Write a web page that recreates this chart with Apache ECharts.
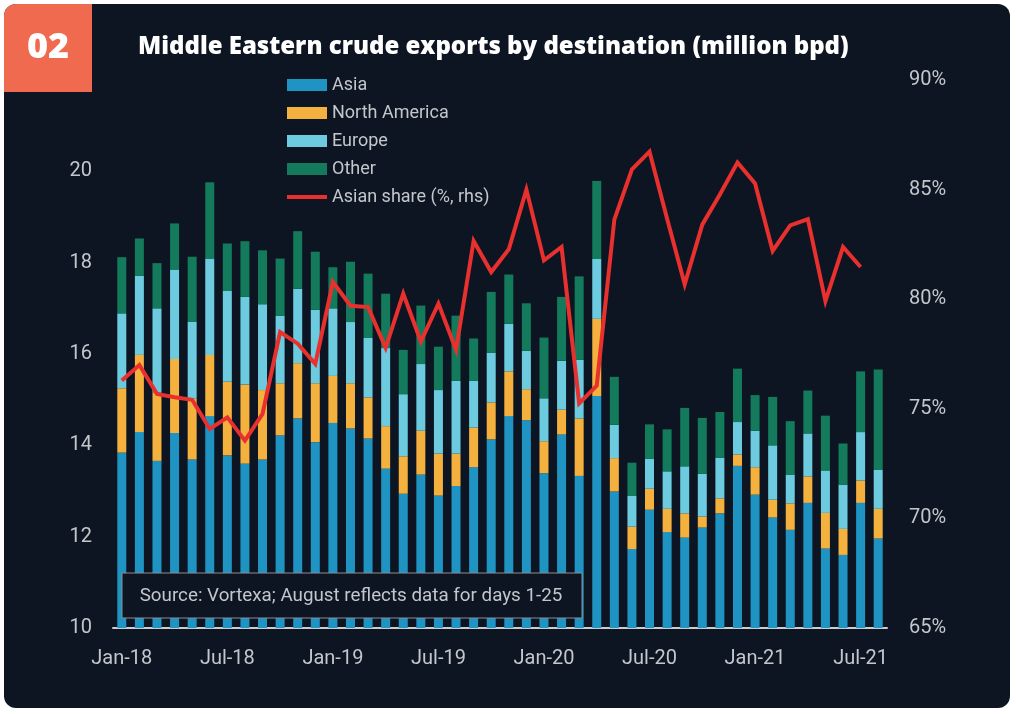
<!DOCTYPE html>
<html>
<head>
<meta charset="utf-8">
<script src="https://cdn.jsdelivr.net/npm/echarts@6/dist/echarts.min.js"></script>
<style>
  html, body { margin: 0; padding: 0; background: #ffffff; }
  #wrap { position: relative; width: 1016px; height: 714px; }
  #panel { position: absolute; left: 4px; top: 4px; width: 1006px; height: 704px; border-radius: 12px; background: #0d1522; }
  #chart { position: absolute; left: 0; top: 0; width: 1016px; height: 714px; }
</style>
</head>
<body>
<div id="wrap"><div id="panel"></div><div id="chart"></div></div>
<script>
const categories = ['Jan-18','Feb-18','Mar-18','Apr-18','May-18','Jun-18','Jul-18','Aug-18','Sep-18','Oct-18','Nov-18','Dec-18',
  'Jan-19','Feb-19','Mar-19','Apr-19','May-19','Jun-19','Jul-19','Aug-19','Sep-19','Oct-19','Nov-19','Dec-19',
  'Jan-20','Feb-20','Mar-20','Apr-20','May-20','Jun-20','Jul-20','Aug-20','Sep-20','Oct-20','Nov-20','Dec-20',
  'Jan-21','Feb-21','Mar-21','Apr-21','May-21','Jun-21','Jul-21','Aug-21'];
const asia = [13.84,14.29,13.66,14.27,13.69,14.64,13.78,13.60,13.69,14.22,14.59,14.07,
  14.49,14.37,14.15,13.49,12.94,13.36,12.90,13.11,13.52,14.13,14.64,14.55,
  13.39,14.24,13.33,15.08,12.99,11.73,12.59,12.10,11.98,12.20,12.51,13.55,
  12.92,12.42,12.15,12.74,11.74,11.60,12.74,11.96];
const northAmerica = [1.41,1.69,1.50,1.62,1.33,1.34,1.61,1.73,1.52,1.14,1.21,1.29,
  1.03,0.99,0.90,0.93,0.82,0.96,0.92,0.71,0.87,0.81,0.98,0.68,
  0.70,0.54,1.26,1.69,0.73,0.49,0.46,0.51,0.53,0.24,0.33,0.25,
  0.60,0.39,0.58,0.58,0.78,0.57,0.49,0.65];
const europe = [1.64,1.73,1.84,1.96,1.69,2.11,1.99,1.92,1.88,1.48,1.63,1.61,
  1.48,1.34,1.30,1.71,1.36,1.46,1.39,1.59,1.02,1.09,1.04,0.84,
  0.94,1.07,1.28,1.31,0.73,0.67,0.66,0.82,1.03,0.94,0.89,0.71,
  0.80,1.19,0.63,0.94,0.93,0.97,1.06,0.85];
const other = [1.23,0.82,0.99,1.01,1.42,1.67,1.04,1.22,1.18,1.25,1.26,1.27,
  0.90,1.32,1.41,1.19,0.97,1.28,0.95,1.43,0.93,1.33,1.08,1.04,
  1.33,1.40,1.83,1.71,1.05,0.73,0.75,0.92,1.28,1.22,1.00,1.17,
  0.78,1.06,1.17,0.94,1.20,0.90,1.33,2.20];
const asianShare = [76.29,77.00,75.68,75.53,75.41,74.08,74.61,73.55,74.77,78.50,77.97,77.05,
  80.78,79.70,79.64,77.78,80.25,78.07,79.80,77.69,82.66,81.24,82.28,85.00,
  81.77,82.38,75.25,76.06,83.63,85.92,86.73,83.67,80.68,83.40,84.78,86.24,
  85.28,82.20,83.37,83.65,79.91,82.38,81.47,null];
const leftTicks = { min: 10, max: 22, interval: 2 };
const rightTicks = { min: 65, max: 90, interval: 5 };

const labelColor = '#c3c7cc';
const font = 'Roboto, "Noto Sans", sans-serif';

const chart = echarts.init(document.getElementById('chart'), null, { renderer: 'canvas' });
const barBase = { type: 'bar', stack: 'total', barWidth: 9, yAxisIndex: 0 };
chart.setOption({
  backgroundColor: 'transparent',
  animation: false,
  title: {
    text: 'Middle Eastern crude exports by destination (million bpd)',
    left: 133, top: 30,
    textStyle: { color: '#ffffff', fontSize: 24, fontWeight: 800, fontFamily: '"Open Sans", sans-serif' }
  },
  legend: {
    orient: 'vertical', left: 287, top: 76, padding: 0,
    itemWidth: 40, itemHeight: 12, itemGap: 10,
    textStyle: { color: labelColor, fontSize: 18, fontFamily: font },
    data: [
      { name: 'Asia', icon: 'rect' },
      { name: 'North America', icon: 'rect' },
      { name: 'Europe', icon: 'rect' },
      { name: 'Other', icon: 'rect' },
      { name: 'Asian share (%, rhs)', icon: 'path://M0,0 L40,0 L40,4 L0,4 Z', itemStyle: { color: '#e8302e' } }
    ]
  },
  grid: { left: 113, right: 129, top: 80, bottom: 86, containLabel: false },
  xAxis: {
    type: 'category', data: categories,
    axisLine: { lineStyle: { color: '#c9ccd0', width: 2 } },
    axisTick: { show: false },
    axisLabel: { interval: 5, color: labelColor, fontSize: 20, fontFamily: font, margin: 21 }
  },
  yAxis: [
    {
      type: 'value', min: leftTicks.min, max: leftTicks.max, interval: leftTicks.interval,
      axisLine: { show: false }, axisTick: { show: false }, splitLine: { show: false },
      axisLabel: { color: labelColor, fontSize: 20, fontFamily: font, margin: 21,
        formatter: v => (v === leftTicks.max ? '' : String(v)) }
    },
    {
      type: 'value', min: rightTicks.min, max: rightTicks.max, interval: rightTicks.interval, position: 'right',
      axisLine: { show: false }, axisTick: { show: false }, splitLine: { show: false },
      axisLabel: { color: labelColor, fontSize: 20, fontFamily: font, margin: 22, formatter: '{value}%' }
    }
  ],
  series: [
    Object.assign({ name: 'Asia', data: asia, itemStyle: { color: '#1f94c3' } }, barBase),
    Object.assign({ name: 'North America', data: northAmerica, itemStyle: { color: '#f4b13e' } }, barBase),
    Object.assign({ name: 'Europe', data: europe, itemStyle: { color: '#6dcbe0' } }, barBase),
    Object.assign({ name: 'Other', data: other, itemStyle: { color: '#137a5b' } }, barBase),
    {
      name: 'Asian share (%, rhs)', type: 'line', yAxisIndex: 1, data: asianShare,
      symbol: 'none', showSymbol: false, z: 5,
      lineStyle: { color: '#e8302e', width: 4, join: 'miter' },
      itemStyle: { color: '#e8302e' }
    }
  ],
  graphic: [
    {
      type: 'rect', z: 50,
      shape: { x: 4, y: 4, width: 88, height: 88, r: [12, 0, 0, 0] },
      style: { fill: '#f06a4f' }
    },
    {
      type: 'text', z: 51,
      style: { text: '02', fill: '#ffffff', font: '900 36px "Open Sans", sans-serif', x: 48, y: 48, textAlign: 'center', textVerticalAlign: 'middle' }
    },
    {
      type: 'rect', z: 60,
      shape: { x: 122, y: 573, width: 460, height: 45 },
      style: { fill: '#0d1522', stroke: '#8a8f96', lineWidth: 1 }
    },
    {
      type: 'text', z: 61,
      style: { text: 'Source: Vortexa; August reflects data for days 1-25', fill: labelColor,
        font: '18.8px Roboto, sans-serif', x: 351, y: 596, textAlign: 'center', textVerticalAlign: 'middle' }
    }
  ]
});
</script>
</body>
</html>
